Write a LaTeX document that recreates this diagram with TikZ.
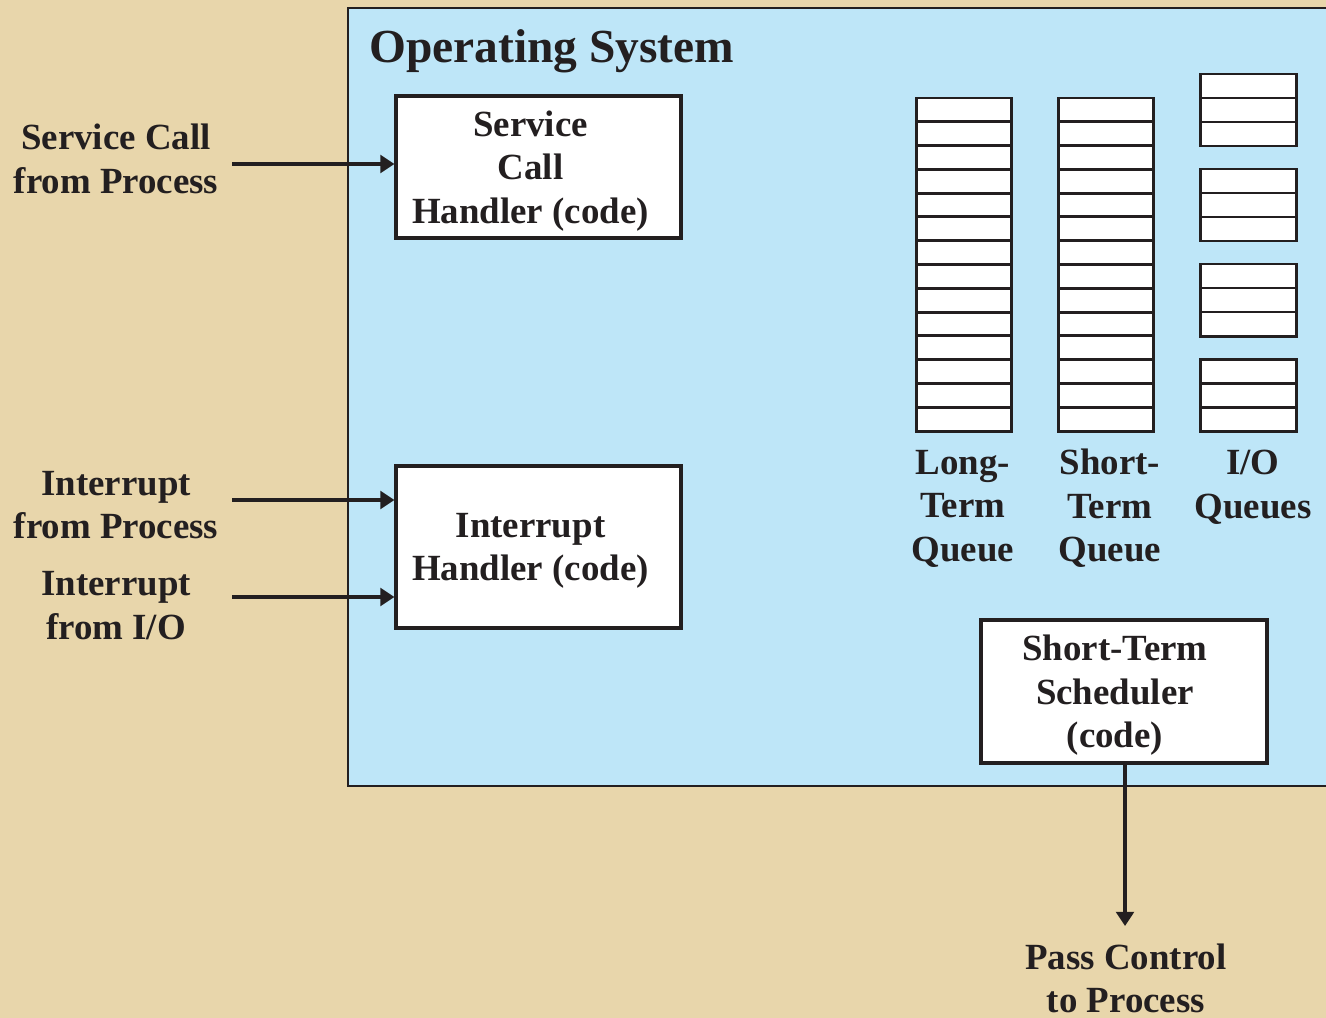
\documentclass[tikz,border=0pt]{standalone}
\usepackage{fontspec}
\setmainfont{Liberation Serif}
\usetikzlibrary{arrows.meta}
\definecolor{parchment}{RGB}{232,214,171}
\definecolor{osblue}{RGB}{190,230,248}
\definecolor{ink}{RGB}{35,31,32}

\begin{document}
\begin{tikzpicture}[x=0.02cm,y=-0.02cm,
  lbl/.style={align=center,text=ink,font=\fontsize{21}{24.8}\selectfont\bfseries},
  codebox/.style={draw=ink,line width=1.8pt,fill=white,inner sep=0pt},
  cell/.style={draw=ink,line width=1.7pt,fill=white},
  feed/.style={draw=ink,line width=1.9pt,-{Triangle[length=8pt,width=10pt]}}]
\useasboundingbox (0,0) rectangle (1326,1018);
\fill[parchment] (0,0) rectangle (1326,1018);
\fill[osblue] (348,8) rectangle (1326,786);
\draw[ink,line width=1.6pt] (1326,8) -- (348,8) -- (348,786) -- (1326,786);
\node[anchor=base west,text=ink,font=\fontsize{27}{32}\selectfont\bfseries] (title) at (363,62) {Operating System};
% handlers
\node[codebox,minimum width=5.7cm,minimum height=2.84cm,
  label={[lbl,xshift=-0.16cm,yshift=-0.08cm]center:Service\\Call\\Handler (code)}] (sch) at (538.5,167) {};
\node[codebox,minimum width=5.7cm,minimum height=3.24cm,
  label={[lbl,xshift=-0.16cm,yshift=-0.08cm]center:Interrupt\\Handler (code)}] (ih) at (538.5,547) {};
\node[codebox,minimum width=5.72cm,minimum height=2.86cm,
  label={[lbl,xshift=-0.18cm,yshift=-0.08cm]center:Short-Term\\Scheduler\\(code)}] (sts) at (1124,691.5) {};
% queues
\foreach \qx in {916,1058}
  \foreach \k in {0,...,13}
    \draw[cell] (\qx,98+\k*23.79) rectangle ++(95,23.79);
\foreach \gy in {74,169,264,359}
  \foreach \k in {0,1,2}
    \draw[cell] (1200,\gy+\k*24) rectangle ++(96,24);
\node[lbl] (ltq) at (963,508.5) {Long-\\Term\\Queue};
\node[lbl] (stq) at (1110,508.5) {Short-\\Term\\Queue};
\node[lbl] (ioq) at (1253,487) {I/O\\Queues};
% outside events
\node[lbl] (svc) at (116,159) {Service Call\\from Process};
\node[lbl] (intp) at (116,505) {Interrupt\\from Process};
\node[lbl] (intio) at (116,605.5) {Interrupt\\from I/O};
\node[lbl] (pass) at (1126,978.5) {Pass Control\\to Process};
\coordinate (svcin) at (232,164);
\coordinate (intpin) at (232,500);
\coordinate (intioin) at (232,597);
\coordinate (passin) at (1125,926);
\draw[feed] (svcin) -- (svcin -| sch.west);
\draw[feed] (intpin) -- (intpin -| ih.west);
\draw[feed] (intioin) -- (intioin -| ih.west);
\draw[feed] (sts.south -| passin) -- (passin);
\end{tikzpicture}
\end{document}
